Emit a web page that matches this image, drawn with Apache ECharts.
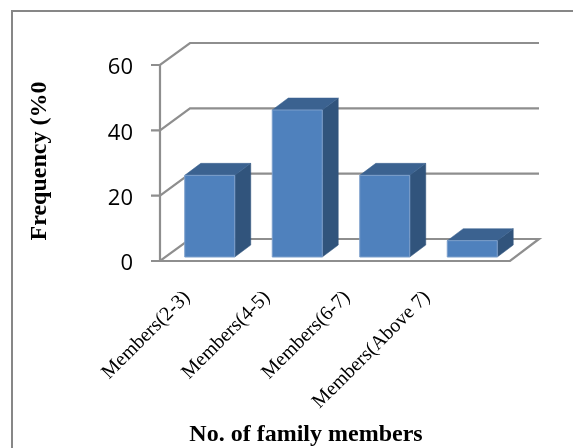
<!DOCTYPE html>
<html>
<head>
<meta charset="utf-8">
<style>html,body{margin:0;padding:0;background:#fff}#c{width:573px;height:448px}</style>
<script src="https://cdn.jsdelivr.net/npm/echarts@6/dist/echarts.min.js"></script>
</head>
<body>
<div id="c"></div>
<script>
// Family size distribution, drawn as a pseudo-3D column chart
const categories = ['Members(2-3)', 'Members(4-5)', 'Members(6-7)', 'Members(Above 7)'];
const frequency = [25, 45, 25, 5];
const yTicks = [0, 20, 40, 60];
const yAxisTitle = 'Frequency (%0';
const xAxisTitle = 'No. of family members';

// Projection of the chart box
const WALL_DX = 30, WALL_DY = 22;   // floor depth
const BAR_DX = 16, BAR_DY = 12;     // column depth
const BAR_SHIFT_X = 6, BAR_SHIFT_Y = 4; // column inset from the front edge of the floor
const BAR_W = 50;
const TICK_LEN = 9;
const GRID_COLOR = '#8e8e8e';

function poly(points, fill, z2) {
  return { type: 'polygon', z2: z2, shape: { points: points }, style: { fill: fill, stroke: fill, lineWidth: 0.5 } };
}

// One wall gridline per tick: outward tick, slanted side edge, then the back line
function renderWall(params, api) {
  const cs = params.coordSys;
  const y = api.coord([0, api.value(1)])[1];
  const left = cs.x, right = cs.x + cs.width;
  const pts = [[left - TICK_LEN, y], [left, y], [left + WALL_DX, y - WALL_DY], [right + WALL_DX - 1, y - WALL_DY]];
  if (api.value(1) === 0) {
    pts.push([right, y], [left, y]);
  }
  return {
    type: 'polyline',
    shape: { points: pts },
    style: { fill: null, stroke: GRID_COLOR, lineWidth: 2.2 }
  };
}

function renderBar(params, api) {
  const top = api.coord([api.value(0), api.value(1)]);
  const base = api.coord([api.value(0), 0]);
  const x0 = top[0] + BAR_SHIFT_X - BAR_W / 2, x1 = x0 + BAR_W;
  const yT = top[1] - BAR_SHIFT_Y, yB = base[1] - BAR_SHIFT_Y;
  return {
    type: 'group',
    children: [
      poly([[x1, yT], [x1 + BAR_DX, yT - BAR_DY], [x1 + BAR_DX, yB - BAR_DY], [x1, yB]], '#31547c', 1),
      poly([[x0, yT], [x0 + BAR_DX, yT - BAR_DY], [x1 + BAR_DX, yT - BAR_DY], [x1, yT]], '#3b6290', 1),
      {
        type: 'rect', z2: 2,
        shape: { x: x0, y: yT, width: BAR_W, height: yB - yT },
        style: { fill: '#4f81bd', stroke: '#7c9fcb', lineWidth: 1 }
      }
    ]
  };
}

const chart = echarts.init(document.getElementById('c'), null, { renderer: 'canvas' });
chart.setOption({
  animation: false,
  backgroundColor: '#ffffff',
  grid: [
    { left: 160, top: 65, width: 350, height: 196 },
    { left: 147, top: 286, width: 320, height: 1 }
  ],
  xAxis: [
    {
      gridIndex: 0, type: 'category', data: categories,
      axisLine: { show: false }, axisTick: { show: false }, axisLabel: { show: false }
    },
    {
      gridIndex: 1, type: 'category', data: categories,
      axisLine: { show: false }, axisTick: { show: false },
      axisLabel: {
        interval: 0, rotate: 45, margin: 8,
        fontFamily: 'Liberation Serif', fontSize: 20, color: '#000'
      },
      name: xAxisTitle, nameLocation: 'middle', nameGap: 137,
      nameTextStyle: {
        fontFamily: 'Liberation Serif', fontWeight: 'bold', fontSize: 24, color: '#000', padding: [0, 2, 0, 0]
      }
    }
  ],
  yAxis: [
    {
      gridIndex: 0, type: 'value', min: 0, max: 60, interval: 20,
      splitLine: { show: false },
      axisLine: { show: true, lineStyle: { color: GRID_COLOR, width: 2.2 } },
      axisTick: { show: false },
      axisLabel: {
        fontFamily: 'Open Sans', fontSize: 22, color: '#000', margin: 27,
        verticalAlign: 'top', lineHeight: 6
      },
      name: yAxisTitle, nameLocation: 'middle', nameGap: 108, nameRotate: 90,
      nameTextStyle: {
        fontFamily: 'Liberation Serif', fontWeight: 'bold', fontSize: 24, color: '#000', padding: [0, 0, 0, 4]
      }
    },
    { gridIndex: 1, type: 'value', show: false }
  ],
  graphic: [
    {
      type: 'polyline', silent: true,
      shape: { points: [[12, 448], [12, 11], [573, 11]] },
      style: { fill: null, stroke: '#878787', lineWidth: 2 }
    }
  ],
  series: [
    {
      type: 'custom', xAxisIndex: 0, yAxisIndex: 0, clip: false, z: 1,
      renderItem: renderWall, data: yTicks.map(v => [0, v]),
      encode: { x: 0, y: 1 }, silent: true
    },
    {
      type: 'custom', xAxisIndex: 0, yAxisIndex: 0, clip: false, z: 3,
      renderItem: renderBar, data: frequency.map((v, i) => [i, v]),
      encode: { x: 0, y: 1 }, silent: true
    }
  ]
});
</script>
</body>
</html>
